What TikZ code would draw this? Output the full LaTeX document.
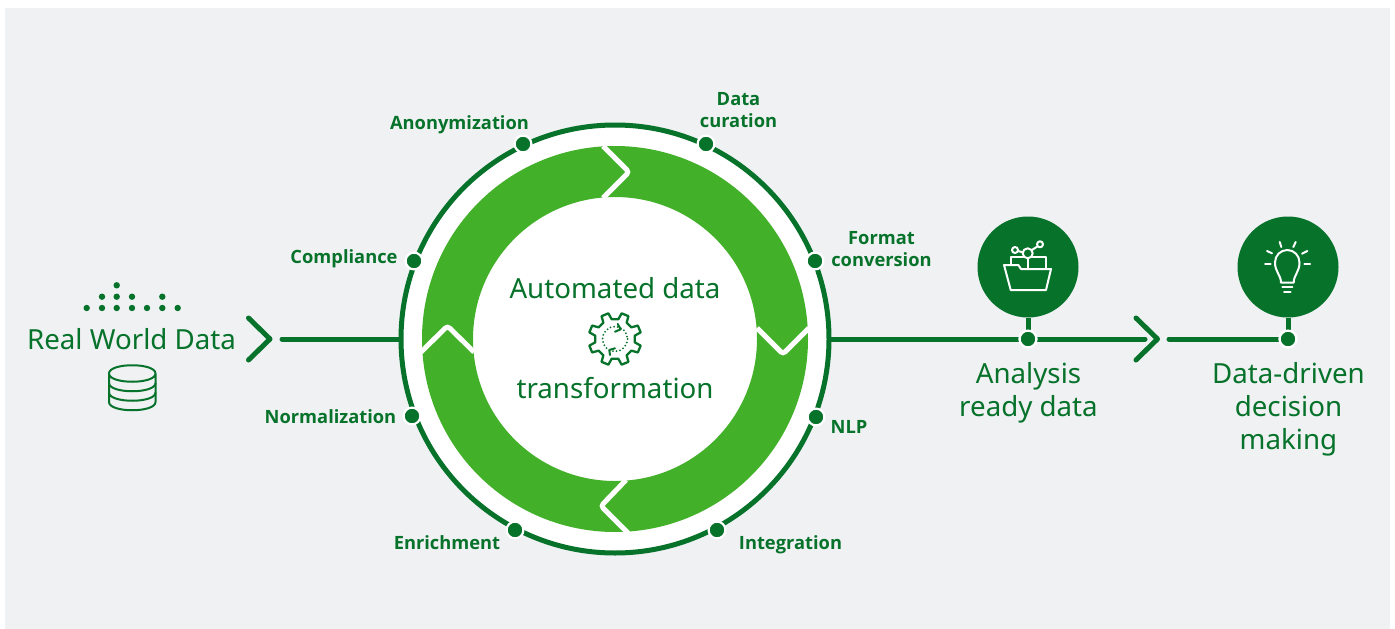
\documentclass[tikz,border=0pt]{standalone}
\usepackage{fontspec}
\setmainfont{Noto Sans}
\newfontfamily\lblfont{Open Sans}
\definecolor{dkgreen}{HTML}{06722A}
\definecolor{ltgreen}{HTML}{43B02A}
\definecolor{bgrey}{HTML}{EFF1F3}
\tikzset{
  step label/.style={font=\lblfont\bfseries\fontsize{18.3}{22}\selectfont,text=dkgreen,align=center,inner sep=0pt},
  big label/.style={font=\fontsize{27.7}{33}\selectfont,text=dkgreen,align=center,inner sep=0pt},
  ringdot/.style={circle,fill=dkgreen,draw=white,line width=2.2pt,minimum size=16.8pt,inner sep=0pt},
  bigdisc/.style={circle,fill=dkgreen,minimum size=101pt,inner sep=0pt},
  conn/.style={draw=dkgreen,line width=5pt,line cap=round},
  chevron/.style={draw=dkgreen,line width=5pt,line cap=round,line join=round},
  cut/.style={draw=white,line width=5pt,rounded corners=3pt},
  icon/.style={draw=dkgreen,line width=2pt,line join=round},
  wicon/.style={draw=white,line width=2pt,line join=round,line cap=round},
}
\begin{document}
\begin{tikzpicture}[x=1pt,y=-1pt]
\useasboundingbox (0,0) rectangle (1395,629);
\fill[bgrey] (5,8) rectangle (1390,629);
% connectors behind
\coordinate (hub) at (615,339);
\coordinate (inA) at (282,339);
\coordinate (chevL1) at (248.5,318);
\coordinate (chevL2) at (270,339);
\coordinate (chevL3) at (248.5,360);
\coordinate (chevR1) at (1136,318);
\coordinate (chevR2) at (1157.5,339);
\coordinate (chevR3) at (1136,360);
\coordinate (outB) at (1145,339);
\coordinate (outC) at (1169,339);
\draw[chevron] (chevL1) -- (chevL2) -- (chevL3);
\draw[chevron] (chevR1) -- (chevR2) -- (chevR3);
\draw[conn] (inA) -- (hub);
\draw[conn] (hub) -- (outB);
\draw[conn] (outC) -- (1288,339);
% main circle
\node[circle,fill=white,draw=dkgreen,line width=5pt,minimum size=428pt,inner sep=0pt] (ring) at (hub) {};
\fill[ltgreen,even odd rule] (hub) circle[radius=193] (hub) circle[radius=142];
\draw[cut] (603,146) -- (629,172) -- (603,198);
\draw[cut] (757,328) -- (783,354) -- (809,328);
\draw[cut] (421,352) -- (447.5,326) -- (474,352);
\draw[cut] (626,480) -- (601,506) -- (628,533);
% gear
\begin{scope}[shift={(615,339)}]
\draw[icon,line width=2.3pt] (9:20) \foreach \a in {22.5,67.5,...,337.5} { -- (\a-13:20) -- (\a-8:26.5) -- (\a+8:26.5) -- (\a+13:20) } -- cycle;
\draw[dkgreen,line width=2pt,line cap=round,dash pattern=on 0pt off 3.6pt] (0,0) circle[radius=12.5];
\end{scope}
\draw[icon,line cap=round] (617.7,324) -- (620.7,329.3) -- (615,331.7);
\draw[icon,line cap=round] (610,355) -- (609.3,350) -- (615,348.3);
\node[big label] (auto) at (615,288) {Automated data};
\node[big label] (trans) at (615,388) {transformation};
% ring dots and labels
\node[ringdot] (d1) at (523,144) {};
\node[ringdot] (d2) at (706,144) {};
\node[ringdot] (d3) at (815,261) {};
\node[ringdot] (d4) at (816,417) {};
\node[ringdot] (d5) at (717,530) {};
\node[ringdot] (d6) at (515,530) {};
\node[ringdot] (d7) at (412,416) {};
\node[ringdot] (d8) at (414,261) {};
\node[step label] (l1) at (459.5,125) {Anonymization};
\node[step label] (l2) at (738.5,110) {Data\\curation};
\node[step label] (l3) at (881.5,249.5) {Format\\conversion};
\node[step label] (l4) at (849,427) {NLP};
\node[step label] (l5) at (790.5,545) {Integration};
\node[step label] (l6) at (447,543) {Enrichment};
\node[step label] (l7) at (330.5,417) {Normalization};
\node[step label] (l8) at (344,259) {Compliance};
% left block
\node[big label] (rwd) at (131.5,339) {Real World Data};
\foreach \x/\y in {86.7/308,102/308,116.7/308,132/308,147/308,162.3/308,177.7/308,102/296.7,116.7/296.7,132/296.7,162.3/296.7,116.7/285.3}
  \fill[dkgreen] (\x,\y) circle[radius=3.2];
\draw[icon] (109,373.5) .. controls (109,362.5) and (155.5,362.5) .. (155.5,373.5) .. controls (155.5,384.5) and (109,384.5) .. (109,373.5) -- (109,402) .. controls (109,413) and (155.5,413) .. (155.5,402) -- (155.5,373.5);
\draw[icon] (109,383) .. controls (109,394) and (155.5,394) .. (155.5,383);
\draw[icon] (109,392.5) .. controls (109,403.5) and (155.5,403.5) .. (155.5,392.5);
% analysis
\node[bigdisc] (c1) at (1028,267) {};
\node[ringdot] (e1) at (1028,339) {};
\draw[dkgreen,line width=5pt] (c1) -- (e1);
\node[ringdot] at (e1) {};
\draw[wicon] (1004,265) -- (1018.3,265) -- (1021,269) -- (1051,269) -- (1046,290) -- (1010.7,290) -- cycle;
\draw[wicon] (1011,265) -- (1011,256.7) -- (1023,256.7);
\draw[wicon] (1032.5,256.7) -- (1045.7,256.7) -- (1045.7,269);
\draw[wicon] (1027.7,259) -- (1027.7,269);
\draw[wicon] (1027.7,253.3) circle[radius=5];
\draw[wicon] (1015,250) circle[radius=3];
\draw[wicon] (1040,244.3) circle[radius=3];
\draw[wicon] (1018,251) -- (1022.7,252.3);
\draw[wicon] (1032,250) -- (1037.3,246.5);
\node[big label] (t1) at (1028.5,393) {Analysis\\ready data};
% decision
\node[bigdisc] (c2) at (1288,267) {};
\node[ringdot] (e2) at (1288,339) {};
\draw[dkgreen,line width=5pt] (c2) -- (e2);
\node[ringdot] at (e2) {};
\draw[wicon] (1281,282.7) .. controls (1281,275) and (1275,272) .. (1275,262.5) .. controls (1275,255.5) and (1280.5,250) .. (1287.3,250) .. controls (1294,250) and (1299.5,255.5) .. (1299.5,262.5) .. controls (1299.5,272) and (1293.7,275) .. (1293.7,282.7) -- cycle;
\draw[wicon] (1282.3,287.3) -- (1292.3,287.3);
\draw[wicon] (1284,292.3) -- (1290.7,292.3);
\draw[wicon] (1265,263.7) -- (1270.7,263.7);
\draw[wicon] (1304.3,263.7) -- (1310,263.7);
\draw[wicon] (1267,251) -- (1272,253.3);
\draw[wicon] (1307.3,251) -- (1302,253.7);
\draw[wicon] (1279.7,242) -- (1281.3,247);
\draw[wicon] (1295.7,242) -- (1293.3,247);
\node[big label] (t2) at (1288.5,409) {Data-driven\\decision\\making};
\end{tikzpicture}
\end{document}
